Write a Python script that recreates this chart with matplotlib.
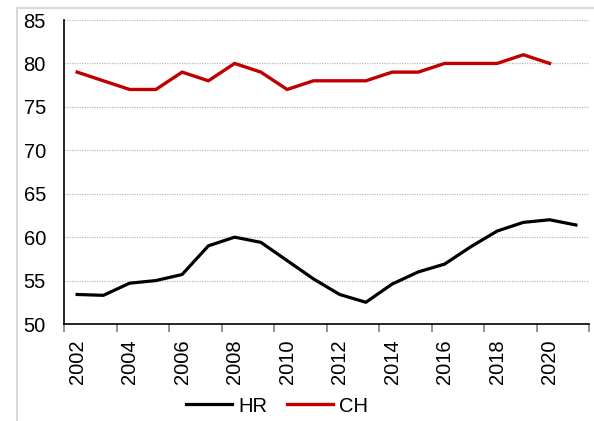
import matplotlib
matplotlib.use("Agg")
import matplotlib.pyplot as plt
from matplotlib.patches import Rectangle
from matplotlib.ticker import FixedLocator, NullFormatter, FixedFormatter

plt.rcParams['font.family'] = ['Liberation Sans', 'DejaVu Sans']

years = [str(y) for y in range(2002, 2022)]
hr = [53.4, 53.3, 54.7, 55.0, 55.7, 59.0, 60.0, 59.4, 57.3, 55.2,
      53.4, 52.5, 54.6, 56.0, 56.9, 58.9, 60.7, 61.7, 62.0, 61.4]
ch = [79, 78, 77, 77, 79, 78, 80, 79, 77, 78,
      78, 78, 79, 79, 80, 80, 80, 81, 80]

W, H = 594, 421
fig = plt.figure(figsize=(W / 100, H / 100), dpi=100)
fig.patches.append(Rectangle((17 / W, -0.2), 1.2, 1.2 - 8 / H, transform=fig.transFigure,
                             fill=False, edgecolor='#d9d9d9', linewidth=1.5))

ax = fig.add_axes([64 / W, 1 - 324 / H, (589 - 64) / W, (324 - 20) / H])
x_hr = list(range(len(hr)))
x_ch = list(range(len(ch)))
l1, = ax.plot(x_hr, hr, color='black', lw=2.3, label='HR')
l2, = ax.plot(x_ch, ch, color='#C00000', lw=2.4, label='CH')

ax.set_xlim(-0.5, len(years) - 0.5)
ax.set_ylim(50, 85)
ax.set_yticks(range(50, 86, 5))
ax.tick_params(axis='y', length=0, pad=13, labelsize=14.5)
for v in range(55, 86, 5):
    ax.axhline(v, color='#b8b8b8', lw=0.9, ls=(0, (1, 1)), zorder=0)

ax.xaxis.set_major_locator(FixedLocator([i - 0.5 for i in range(0, len(years) + 1, 2)]))
ax.xaxis.set_major_formatter(NullFormatter())
label_pos = list(range(0, len(years), 2))
ax.xaxis.set_minor_locator(FixedLocator(label_pos))
ax.xaxis.set_minor_formatter(FixedFormatter([years[i] for i in label_pos]))
ax.tick_params(axis='x', which='major', length=6, color='#808080', width=1.2)
ax.tick_params(axis='x', which='minor', length=0, pad=11, labelsize=14.5, labelrotation=90)

for s in ['top', 'right']:
    ax.spines[s].set_visible(False)
ax.spines['left'].set_linewidth(1.2)
ax.spines['bottom'].set_linewidth(1.2)

fig.legend(handles=[l1, l2], loc='center', bbox_to_anchor=(277 / W, 1 - 406 / H),
           ncol=2, frameon=False, fontsize=14.5, handlelength=2.3, handletextpad=0.3,
           columnspacing=1.0)

fig.savefig('out.png', dpi=100)
